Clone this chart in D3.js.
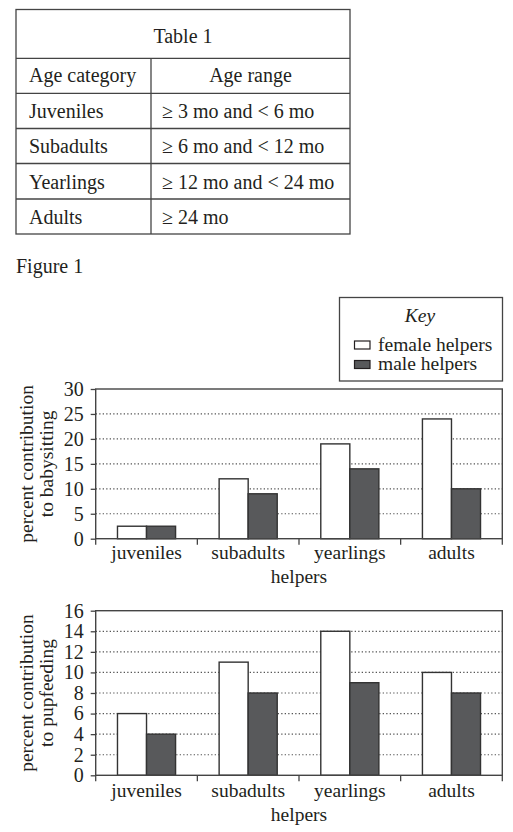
<!DOCTYPE html>
<html>
<head>
<meta charset="utf-8">
<script src="https://cdn.jsdelivr.net/npm/d3@7"></script>
<style>
  body { margin: 0; background: #fff; }
  svg { display: block; }
</style>
</head>
<body>
<div id="chart"></div>
<script>
// table 1
const ageCategories = ["Juveniles", "Subadults", "Yearlings", "Adults"];
const ageRanges = ["\u2265 3 mo and < 6 mo", "\u2265 6 mo and < 12 mo", "\u2265 12 mo and < 24 mo", "\u2265 24 mo"];

// figure 1
const helpers = ["juveniles", "subadults", "yearlings", "adults"];
const seriesNames = ["female helpers", "male helpers"];
const babysitFemale = [2.5, 12, 19, 24];
const babysitMale = [2.5, 9, 14, 10];
const pupfeedFemale = [6, 11, 14, 10];
const pupfeedMale = [4, 8, 9, 8];
const babysitTicks = [0, 5, 10, 15, 20, 25, 30];
const pupfeedTicks = [0, 2, 4, 6, 8, 10, 12, 14, 16];

const W = 513, H = 832;
const ink = "#231f20", line = "#444";
const face = "'Liberation Serif', Tinos, 'Times New Roman'";
const colors = { "female helpers": "#fff", "male helpers": "#58595b" };

const svg = d3.select("#chart").append("svg")
    .attr("width", W).attr("height", H);
svg.append("rect").attr("width", W).attr("height", H).attr("fill", "#fff");

// small helper so every label gets the times-like face directly
function label(parent, x, y, str, size) {
    return parent.append("text").attr("x", x).attr("y", y)
        .attr("font-family", face).attr("font-size", size).attr("fill", ink).text(str);
}

// ---- table ----
const tbl = svg.append("g");
const tx0 = 16, tx1 = 350, tsplit = 151;
const rowY = [9.5, 58.3, 93.3, 128.5, 163.5, 199, 234];
tbl.append("rect").attr("x", tx0).attr("y", rowY[0])
    .attr("width", tx1 - tx0).attr("height", rowY[6] - rowY[0])
    .attr("fill", "none").attr("stroke", line).attr("stroke-width", 1.3);
rowY.slice(1, 6).forEach(y => {
    tbl.append("line").attr("x1", tx0).attr("x2", tx1).attr("y1", y).attr("y2", y)
        .attr("stroke", line).attr("stroke-width", 1.3);
});
tbl.append("line").attr("x1", tsplit).attr("x2", tsplit).attr("y1", rowY[1]).attr("y2", rowY[6])
    .attr("stroke", line).attr("stroke-width", 1.3);
label(tbl, (tx0 + tx1) / 2, 42.5, "Table 1", 20).attr("text-anchor", "middle");
label(tbl, 29, 81.5, "Age category", 20);
label(tbl, (tsplit + tx1) / 2, 81.5, "Age range", 20).attr("text-anchor", "middle");
ageCategories.forEach((c, i) => {
    const base = rowY[i + 3] - 10.5;
    label(tbl, 29, base, c, 20);
    label(tbl, 162, base, ageRanges[i], 20);
});

label(svg, 16, 273, "Figure 1", 20);

// ---- key ----
const key = svg.append("g");
key.append("rect").attr("x", 339.5).attr("y", 297.5).attr("width", 163).attr("height", 83.5)
    .attr("fill", "#fff").attr("stroke", line).attr("stroke-width", 1.3);
label(key, 420, 322, "Key", 19.5).attr("text-anchor", "middle").attr("font-style", "italic");
seriesNames.forEach((s, i) => {
    const y = 341 + i * 19.5;
    key.append("rect").attr("x", 354.5).attr("y", y).attr("width", 15.5).attr("height", 8)
        .attr("fill", colors[s]).attr("stroke", ink).attr("stroke-width", 1.2);
    label(key, 378, y + 9.5, s, 19.5);
});

// ---- bar panels ----
function panel(top, bottom, ticks, female, male, ylabel2, catBase) {
    const g = svg.append("g");
    const x = d3.scaleBand().domain(helpers).range([95.7, 502.3]).padding(0);
    const sub = d3.scaleBand().domain(seriesNames).range([0, x.bandwidth()])
        .paddingInner(0).paddingOuter(0.75);
    const y = d3.scaleLinear().domain([0, d3.max(ticks)]).range([bottom, top]);

    // dotted grid
    g.selectAll(".grid").data(ticks.slice(1, -1)).join("line")
        .attr("x1", x.range()[0]).attr("x2", x.range()[1])
        .attr("y1", d => y(d)).attr("y2", d => y(d))
        .attr("stroke", "#555").attr("stroke-width", 1.2).attr("stroke-dasharray", "1.3,2.2");

    const rows = helpers.map((h, i) => ({ h, vals: [female[i], male[i]] }));
    const grp = g.selectAll(".grp").data(rows).join("g")
        .attr("transform", d => `translate(${x(d.h)},0)`);
    grp.selectAll("rect").data(d => d.vals.map((v, k) => ({ s: seriesNames[k], v })))
        .join("rect")
        .attr("x", d => sub(d.s)).attr("width", sub.bandwidth())
        .attr("y", d => y(d.v)).attr("height", d => y(0) - y(d.v))
        .attr("fill", d => colors[d.s]).attr("stroke", "#333").attr("stroke-width", 1.4);

    // frame
    g.append("rect").attr("x", x.range()[0]).attr("y", top)
        .attr("width", x.range()[1] - x.range()[0]).attr("height", bottom - top)
        .attr("fill", "none").attr("stroke", line).attr("stroke-width", 1.4);

    const ya = g.append("g").attr("transform", `translate(${x.range()[0]},0)`)
        .call(d3.axisLeft(y).tickValues(ticks).tickSize(5).tickPadding(7));
    ya.attr("font-family", face);
    ya.select(".domain").remove();
    ya.selectAll("line").attr("stroke", line).attr("stroke-width", 1.3);
    ya.selectAll("text").attr("font-family", face).attr("font-size", 20).attr("fill", ink);

    // category boundary ticks
    const bounds = helpers.map(h => x(h)).concat([x.range()[1]]);
    g.selectAll(".ctick").data(bounds).join("line")
        .attr("x1", d => d).attr("x2", d => d).attr("y1", bottom).attr("y2", bottom + 6)
        .attr("stroke", line).attr("stroke-width", 1.3);
    g.selectAll(".cat").data(helpers).join("text")
        .attr("x", d => x(d) + x.bandwidth() / 2).attr("y", catBase)
        .attr("text-anchor", "middle").attr("font-family", face).attr("font-size", 19.5)
        .attr("fill", ink).text(d => d);
    label(g, 299, catBase + 23.5, "helpers", 19.5).attr("text-anchor", "middle");

    const cy = (top + bottom) / 2;
    const yl = g.append("text").attr("transform", `translate(33,${cy}) rotate(-90)`)
        .attr("text-anchor", "middle").attr("font-family", face).attr("font-size", 19.5)
        .attr("fill", ink);
    yl.append("tspan").attr("x", 0).attr("dy", 0).text("percent contribution");
    yl.append("tspan").attr("x", 0).attr("dy", 20).text(ylabel2);
}

panel(389, 538.7, babysitTicks, babysitFemale, babysitMale, "to babysitting", 559);
panel(610.7, 775.3, pupfeedTicks, pupfeedFemale, pupfeedMale, "to pupfeeding", 797);
</script>
</body>
</html>
